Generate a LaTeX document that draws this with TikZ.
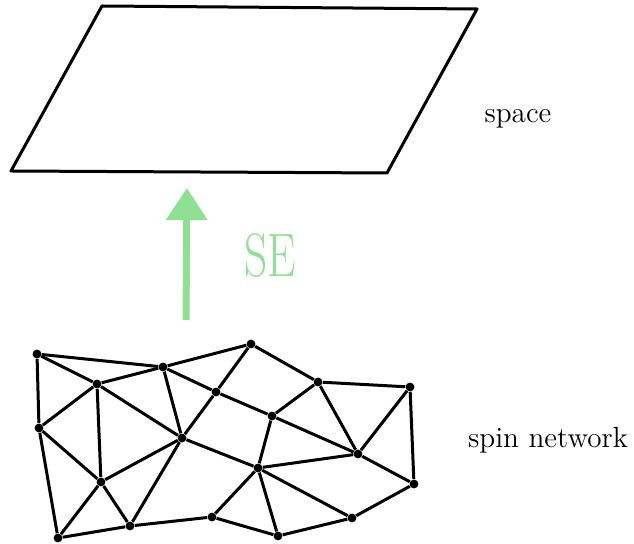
\documentclass[tikz,border=0pt]{standalone}
\usepackage{graphicx}
\usepackage{tikz}
\usetikzlibrary{arrows.meta}
\definecolor{segreen}{RGB}{142,224,146}

\begin{document}
\begin{tikzpicture}[x=0.5pt, y=-0.5pt] % un'unita' = un pixel dell'immagine
    % Stili
    \tikzset{
        vertice/.style={
            circle,
            fill=black,
            inner sep=0pt,
            minimum size=4.4pt
        },
        lato/.style={line width=1.5pt},
        etichetta/.style={font=\fontsize{14.6}{17}\selectfont}
    }

    \useasboundingbox (0,0) rectangle (634,544);

    % --- Spazio (parallelogramma) ---
    \draw[lato, line join=round] (102,6) -- (477,9) -- (387,173) -- (11,171) -- cycle;
    \node[etichetta] (space) at (518,119) {space};

    % --- Freccia SE ---
    \coordinate (base) at (186,320);
    \coordinate (punta) at (187,188);
    \draw[segreen, line width=3.5pt, -{Triangle[width=20pt,length=16pt]}] (base) -- (punta);
    \node[segreen] (se) at (270,256) {\scalebox{0.74}[1]{\fontsize{30.7}{34}\selectfont SE}};

    % --- Rete di spin: vertici ---
    \node[vertice] (A) at (37,354) {};
    \node[vertice] (B) at (163,367) {};
    \node[vertice] (C) at (97,384) {};
    \node[vertice] (D) at (216,392) {};
    \node[vertice] (E) at (39,428) {};
    \node[vertice] (F) at (182,438) {};
    \node[vertice] (G) at (101,482) {};
    \node[vertice] (H) at (130,526) {};
    \node[vertice] (I) at (58,538) {};
    \node[vertice] (J) at (212,517) {};
    \node[vertice] (K) at (251,344) {};
    \node[vertice] (L) at (318,382) {};
    \node[vertice] (M) at (410,387) {};
    \node[vertice] (N) at (272,416) {};
    \node[vertice] (O) at (358,454) {};
    \node[vertice] (P) at (258,468) {};
    \node[vertice] (Q) at (414,484) {};
    \node[vertice] (R) at (352,518) {};
    \node[vertice] (S) at (278,536) {};

    % --- Rete di spin: lati ---
    \foreach \a/\b in {A/B, A/C, A/E, B/C, B/K, B/D, B/F, C/E, C/G, C/F,
                       D/K, D/F, E/G, E/I, G/F, G/I, G/H, F/H, H/J, I/H,
                       F/P, J/P, J/S, K/L, D/N, L/N, L/M, L/O, M/O, M/Q,
                       N/O, N/P, P/O, P/S, P/R, O/Q, R/Q, S/R}
        \draw[lato] (\a) -- (\b);

    \node[etichetta] (spin) at (548,440) {spin network};

\end{tikzpicture}
\end{document}
